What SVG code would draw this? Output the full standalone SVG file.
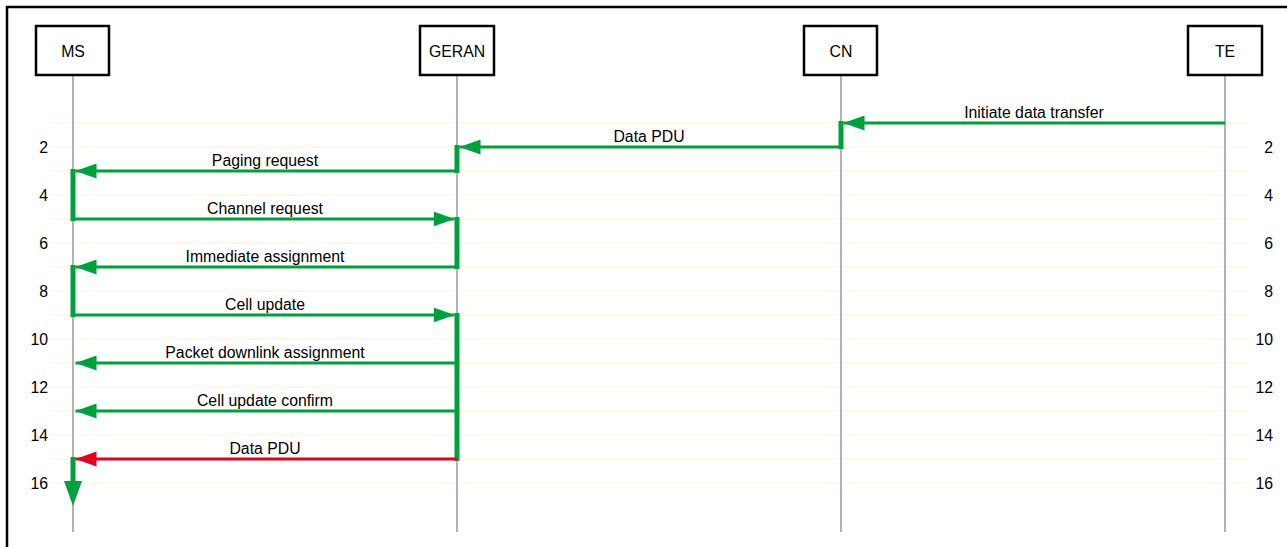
<svg xmlns="http://www.w3.org/2000/svg" width="1287" height="547" viewBox="0 0 1287 547">
<defs>
<style>
.frame{fill:none;stroke:#000;stroke-width:2.5}
.box{fill:#fff;stroke:#000;stroke-width:2.5}
.life{stroke:#999;stroke-width:1.5}
.grid{stroke:#fbf5d8;stroke-width:1}
.t{font-family:"Liberation Sans",Arial,sans-serif;font-size:15.8px;fill:#000}
.c{text-anchor:middle}
.e{text-anchor:end}
.msg{stroke:#00A03C;stroke-width:3;fill:none}
.msgr{stroke:#E3001B;stroke-width:3;fill:none}
.act{fill:#00A03C}
</style>
<marker id="ag" markerUnits="userSpaceOnUse" markerWidth="22" markerHeight="16" refX="21" refY="7.5" orient="auto" viewBox="0 0 22 16">
<path d="M0,0 L21,7.5 L0,15 Z" fill="#00A03C"/>
</marker>
<marker id="ar" markerUnits="userSpaceOnUse" markerWidth="22" markerHeight="16" refX="21" refY="7.5" orient="auto" viewBox="0 0 22 16">
<path d="M0,0 L21,7.5 L0,15 Z" fill="#E3001B"/>
</marker>
</defs>
<rect width="1287" height="547" fill="#fff"/>
<rect class="frame" x="7" y="7" width="1300" height="560"/>

<g id="grid">
<line class="grid" x1="49" y1="123" x2="1249" y2="123"/>
<line class="grid" x1="49" y1="147" x2="1249" y2="147"/>
<line class="grid" x1="49" y1="171" x2="1249" y2="171"/>
<line class="grid" x1="49" y1="195" x2="1249" y2="195"/>
<line class="grid" x1="49" y1="219" x2="1249" y2="219"/>
<line class="grid" x1="49" y1="243" x2="1249" y2="243"/>
<line class="grid" x1="49" y1="267" x2="1249" y2="267"/>
<line class="grid" x1="49" y1="291" x2="1249" y2="291"/>
<line class="grid" x1="49" y1="315" x2="1249" y2="315"/>
<line class="grid" x1="49" y1="339" x2="1249" y2="339"/>
<line class="grid" x1="49" y1="363" x2="1249" y2="363"/>
<line class="grid" x1="49" y1="387" x2="1249" y2="387"/>
<line class="grid" x1="49" y1="411" x2="1249" y2="411"/>
<line class="grid" x1="49" y1="435" x2="1249" y2="435"/>
<line class="grid" x1="49" y1="459" x2="1249" y2="459"/>
<line class="grid" x1="49" y1="483" x2="1249" y2="483"/>
<g class="t e">
<text x="48" y="152.5">2</text><text x="48" y="200.5">4</text><text x="48" y="248.5">6</text><text x="48" y="296.5">8</text>
<text x="48" y="344.5">10</text><text x="48" y="392.5">12</text><text x="48" y="440.5">14</text><text x="48" y="488.5">16</text>
<text x="1273" y="152.5">2</text><text x="1273" y="200.5">4</text><text x="1273" y="248.5">6</text><text x="1273" y="296.5">8</text>
<text x="1273" y="344.5">10</text><text x="1273" y="392.5">12</text><text x="1273" y="440.5">14</text><text x="1273" y="488.5">16</text>
</g>
</g>

<g id="MS">
<line class="life" x1="73" y1="75" x2="73" y2="532"/>
<rect class="box" x="36" y="26" width="73" height="49"/>
<text class="t c" x="73" y="56.5">MS</text>
</g>
<g id="GERAN">
<line class="life" x1="457" y1="75" x2="457" y2="532"/>
<rect class="box" x="420" y="26" width="74" height="49"/>
<text class="t c" x="457" y="56.5">GERAN</text>
</g>
<g id="CN">
<line class="life" x1="841" y1="75" x2="841" y2="532"/>
<rect class="box" x="804" y="26" width="73" height="49"/>
<text class="t c" x="841" y="56.5">CN</text>
</g>
<g id="TE">
<line class="life" x1="1225" y1="75" x2="1225" y2="532"/>
<rect class="box" x="1188" y="26" width="74" height="49"/>
<text class="t c" x="1225" y="56.5">TE</text>
</g>

<g id="activations">
<rect class="act" x="838.5" y="121" width="5" height="28"/>
<rect class="act" x="454.5" y="145" width="5" height="28"/>
<rect class="act" x="70.5" y="169" width="5" height="52"/>
<rect class="act" x="454.5" y="217" width="5" height="52"/>
<rect class="act" x="70.5" y="265" width="5" height="52"/>
<rect class="act" x="454.5" y="313" width="5" height="148"/>
<rect class="act" x="70.5" y="457" width="5" height="25"/>
<path class="act" d="M64,481 L82,481 L73,506 Z"/>
</g>

<g id="connectors">
<line class="msg" x1="1225" y1="123" x2="843.5" y2="123" marker-end="url(#ag)"/>
<line class="msg" x1="841" y1="147" x2="459.5" y2="147" marker-end="url(#ag)"/>
<line class="msg" x1="457" y1="171" x2="75.5" y2="171" marker-end="url(#ag)"/>
<line class="msg" x1="73" y1="219" x2="454.5" y2="219" marker-end="url(#ag)"/>
<line class="msg" x1="457" y1="267" x2="75.5" y2="267" marker-end="url(#ag)"/>
<line class="msg" x1="73" y1="315" x2="454.5" y2="315" marker-end="url(#ag)"/>
<line class="msg" x1="457" y1="363" x2="75.5" y2="363" marker-end="url(#ag)"/>
<line class="msg" x1="457" y1="411" x2="75.5" y2="411" marker-end="url(#ag)"/>
<line class="msgr" x1="457" y1="459" x2="75.5" y2="459" marker-end="url(#ar)"/>
<g class="t c">
<text x="1034" y="118">Initiate data transfer</text>
<text x="649" y="142">Data PDU</text>
<text x="265" y="166">Paging request</text>
<text x="265" y="214">Channel request</text>
<text x="265" y="262">Immediate assignment</text>
<text x="265" y="310">Cell update</text>
<text x="265" y="358">Packet downlink assignment</text>
<text x="265" y="406">Cell update confirm</text>
<text x="265" y="454">Data PDU</text>
</g>
</g>
</svg>
